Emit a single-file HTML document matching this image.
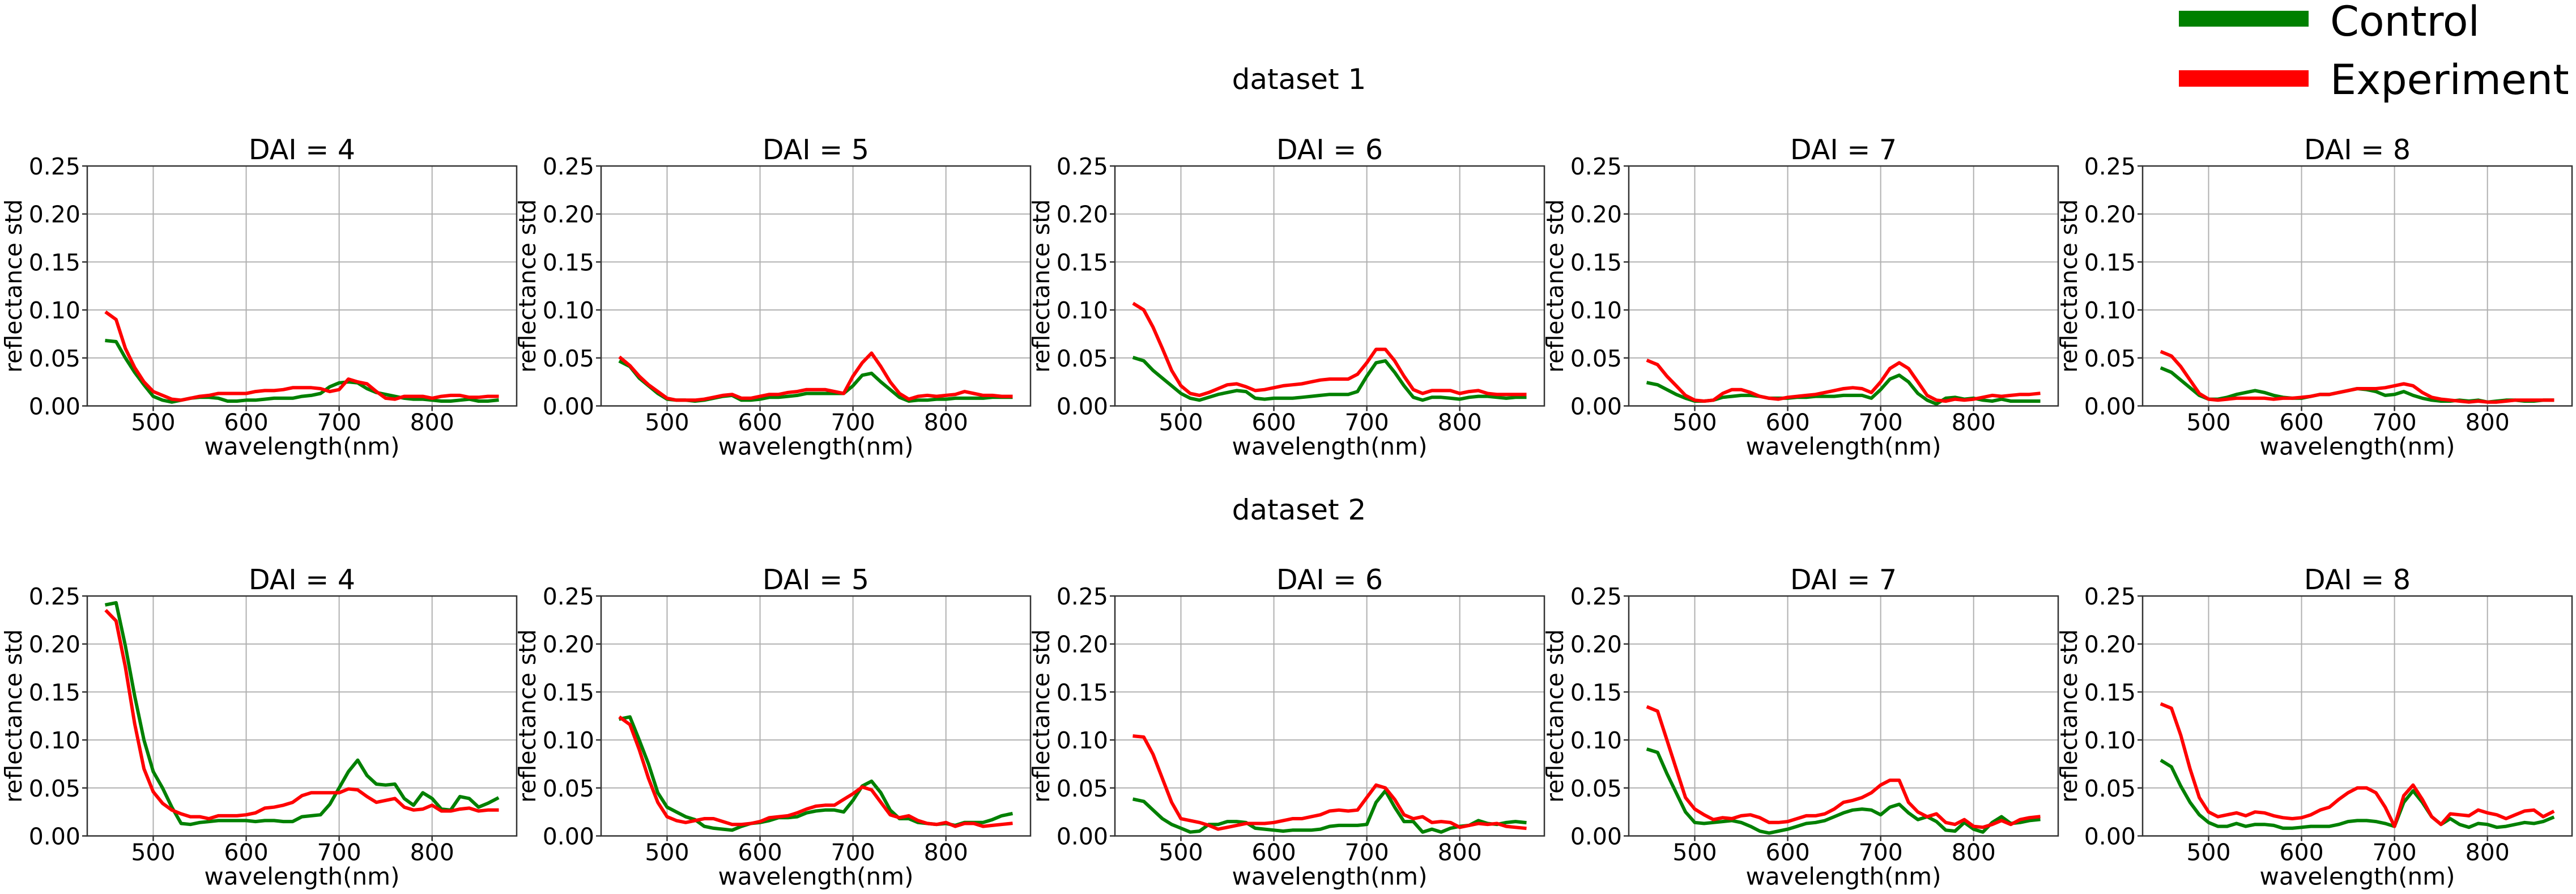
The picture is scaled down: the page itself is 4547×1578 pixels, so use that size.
<!DOCTYPE html>
<html><head><meta charset="utf-8"><style>
html,body{margin:0;padding:0;background:#fff;}
svg{display:block;font-family:"DejaVu Sans","Liberation Sans",sans-serif;}
</style></head><body>
<svg id="fig" width="4547" height="1578" viewBox="0 0 4547 1578" xmlns="http://www.w3.org/2000/svg">
<text x="2293" y="157" font-size="50" text-anchor="middle">dataset 1</text>
<text x="2293" y="917" font-size="50" text-anchor="middle">dataset 2</text>
<g>
<rect x="3846" y="19" width="229" height="28" fill="#008000"/>
<text x="4113" y="63" font-size="73">Control</text>
<rect x="3846" y="124" width="229" height="29" fill="#ff0000"/>
<text x="4113" y="166" font-size="73">Experiment</text>
</g>
</svg>
<script>
const wavelengths=[450,460,470,480,490,500,510,520,530,540,550,560,570,580,590,600,610,620,630,640,650,660,670,680,690,700,710,720,730,740,750,760,770,780,790,800,810,820,830,840,850,860,870];
const dai=[4,5,6,7,8];
const yTicks=[0,0.05,0.10,0.15,0.20,0.25];
const yTickLabels=["0.00","0.05","0.10","0.15","0.20","0.25"];
const xTicks=[500,600,700,800];
// values in units of 0.001
const d1Control=[
[68,67,50,35,22,10,6,4,6,8,9,9,8,5,5,6,6,7,8,8,8,10,11,13,20,24,25,24,18,14,12,10,8,7,7,6,5,5,6,7,5,5,6],
[46,41,29,21,13,7,6,6,5,6,8,10,11,6,6,7,9,9,10,11,13,13,13,13,13,21,32,34,25,17,9,5,6,6,7,7,8,8,8,8,9,9,9],
[50,47,37,29,21,13,8,6,9,12,14,16,15,8,7,8,8,8,9,10,11,12,12,12,15,31,45,47,35,21,9,6,9,9,8,7,9,10,10,9,8,9,9],
[24,22,17,12,8,5,5,6,9,10,11,11,10,8,8,8,9,9,10,10,10,11,11,11,8,17,28,32,25,13,6,2,8,9,7,8,6,5,7,5,5,5,5],
[39,35,27,19,11,7,7,9,12,14,16,14,11,9,8,8,10,12,12,14,16,18,17,15,11,12,15,11,8,6,5,5,6,5,6,4,5,6,6,5,5,6,6]];
const d1Experiment=[
[97,90,60,40,25,15,11,7,6,8,10,11,13,13,13,13,15,16,16,17,19,19,19,18,15,17,28,25,23,15,8,7,10,10,10,8,10,11,11,9,9,10,10],
[50,42,31,22,15,8,6,6,6,7,9,11,12,8,8,10,12,12,14,15,17,17,17,15,13,31,45,55,41,25,13,7,10,11,10,11,12,15,13,11,11,10,10],
[106,100,82,60,37,21,13,11,14,18,22,23,20,16,17,19,21,22,23,25,27,28,28,28,33,45,59,59,47,31,17,13,16,16,16,13,15,16,13,12,12,12,12],
[47,43,31,21,11,6,5,6,13,17,17,14,10,8,7,9,10,11,12,14,16,18,19,18,14,25,39,45,39,25,11,6,5,7,6,7,9,11,10,11,12,12,13],
[56,52,41,27,13,7,6,7,8,8,8,8,7,8,8,9,10,12,12,14,16,18,18,18,19,21,23,21,14,9,7,6,5,4,5,4,4,5,6,6,6,6,6]];
const d2Control=[
[241,243,198,146,100,67,50,30,13,12,14,15,16,16,16,16,15,16,16,15,15,20,21,22,33,50,67,79,63,54,53,54,39,32,45,39,28,27,41,39,30,34,39],
[122,124,100,75,45,30,25,20,17,10,8,7,6,10,13,14,16,19,19,20,24,26,27,27,25,37,52,57,45,27,18,18,14,13,12,13,11,14,14,14,17,21,23],
[38,36,27,18,12,8,4,5,12,12,15,15,14,8,7,6,5,6,6,6,7,10,11,11,11,12,35,47,30,15,15,4,7,4,8,10,11,16,13,12,14,15,14],
[90,87,65,45,25,14,13,14,15,16,14,10,5,3,5,7,10,13,14,16,20,24,27,28,27,22,30,33,24,17,20,15,6,5,14,7,4,14,20,13,14,16,17],
[78,72,52,35,22,14,10,10,13,10,12,12,11,8,8,9,10,10,10,12,15,16,16,15,13,10,35,47,35,20,12,18,12,9,13,12,9,10,12,14,13,15,19]];
const d2Experiment=[
[234,224,176,117,70,46,34,27,23,20,20,18,21,21,21,22,24,29,30,32,35,42,45,45,45,45,49,48,41,35,37,39,30,27,28,32,26,26,28,29,26,27,27],
[123,116,90,60,35,20,16,14,16,18,18,15,12,12,13,15,19,20,21,24,28,31,32,32,38,44,51,48,35,22,19,21,16,13,12,14,10,13,13,10,11,12,13],
[104,103,85,60,35,18,16,14,11,7,9,11,13,13,13,14,16,18,18,20,22,26,27,26,27,40,53,50,38,22,18,20,14,15,14,9,11,13,12,13,10,9,8],
[134,130,100,70,40,28,22,17,19,18,21,22,19,14,14,15,18,21,21,23,28,35,37,40,45,53,58,58,35,25,20,23,14,12,17,10,9,12,16,12,17,19,20],
[137,133,105,70,40,25,20,22,24,21,25,24,21,19,18,19,22,27,30,38,45,50,50,45,30,10,42,53,38,20,12,23,22,21,27,24,22,18,22,26,27,20,25]];

const NS="http://www.w3.org/2000/svg";
const svg=document.getElementById('fig');
const panelLefts=[154,1061,1968,2875,3782];
const rowTops=[293,1052];
const W=758,H=423.5,XMIN=429,XMAX=891,YMAX=0.25;
function mk(tag,attrs,parent){const e=document.createElementNS(NS,tag);for(const k in attrs)e.setAttribute(k,attrs[k]);(parent||svg).appendChild(e);return e;}
function drawPanel(row,col,ctrl,exp){
  const L=panelLefts[col],T=rowTops[row],B=T+H,R=L+W;
  const sx=v=>L+(v-XMIN)/(XMAX-XMIN)*W;
  const sy=v=>B-v/YMAX*H;
  const g=mk('g',{});
  
  
  xTicks.forEach(t=>{
    const l=mk('line',{x1:sx(t),x2:sx(t),y1:T,y2:B,stroke:'#b0b0b0','stroke-width':2},g);
    
    
    const tk=mk('line',{x1:sx(t),x2:sx(t),y1:B,y2:B+9,stroke:'#333','stroke-width':2.5},g);
    
    
    const tx=mk('text',{x:sx(t),y:B+43,'font-size':41,'text-anchor':'middle'},g);
    tx.textContent=String(t);
    
    
  });
  yTicks.forEach((t,i)=>{
    const l=mk('line',{x1:L,x2:R,y1:sy(t),y2:sy(t),stroke:'#b0b0b0','stroke-width':2},g);
    
    
    const tk=mk('line',{x1:L-9,x2:L,y1:sy(t),y2:sy(t),stroke:'#333','stroke-width':2.5},g);
    
    
    const tx=mk('text',{x:L-12,y:sy(t)+15,'font-size':41,'text-anchor':'end'},g);
    tx.textContent=yTickLabels[i];
    
    
  });
  const mkLine=(vals,color,name)=>{
    const pts=vals.map((v,i)=>sx(wavelengths[i]).toFixed(1)+','+sy(v/1000).toFixed(1)).join(' ');
    const p=mk('polyline',{points:pts,fill:'none',stroke:color,'stroke-width':6,'stroke-linejoin':'round','stroke-linecap':'square'},g);
    
    
  };
  mkLine(ctrl,'#008000','control-line');
  mkLine(exp,'#ff0000','experiment-line');
  const fr=mk('rect',{x:L,y:T,width:W,height:H,fill:'none',stroke:'#333','stroke-width':2.5},g);
  
  
  const ti=mk('text',{x:L+W/2,y:T-12,'font-size':49,'text-anchor':'middle'},g);
  ti.textContent='DAI = '+dai[col];
  
  
  const xl=mk('text',{x:L+W/2,y:B+86,'font-size':42,'text-anchor':'middle'},g);
  xl.textContent='wavelength(nm)';
  
  
  const cy=T+H/2;
  const yl=mk('text',{x:0,y:0,'font-size':41,'text-anchor':'middle',transform:'translate('+(L-116)+','+cy+') rotate(-90)'},g);
  yl.textContent='reflectance std';
  
  
}
for(let c=0;c<5;c++){drawPanel(0,c,d1Control[c],d1Experiment[c]);drawPanel(1,c,d2Control[c],d2Experiment[c]);}
</script>
</body></html>
